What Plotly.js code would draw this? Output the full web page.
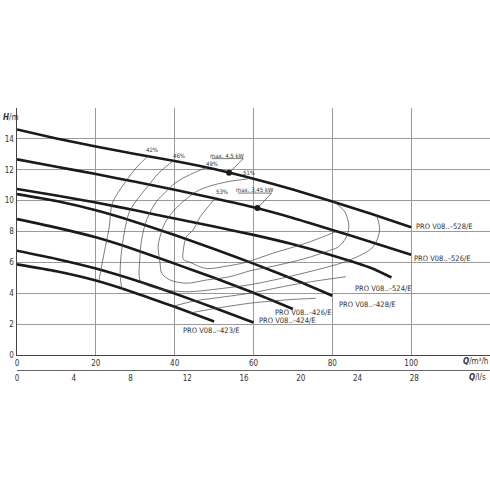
<!DOCTYPE html>
<html>
<head>
<meta charset="utf-8">
<script src="https://cdn.plot.ly/plotly-3.0.1.min.js"></script>
<style>html,body{margin:0;padding:0;background:#fff;}#chart{width:490px;height:490px;}</style>
</head>
<body>
<div id="chart"></div>
<script>
// ---- pump curves (Q in m3/h, H in m) ----
const q528 = [0,10,20,30,40,50,60,70,80,90,100];
const h528 = [14.61,14.03,13.5,13.02,12.57,12.05,11.42,10.72,9.95,9.13,8.27];
const q526 = [0,10,20,30,40,50,60,70,80,90,100];
const h526 = [12.67,12.2,11.72,11.22,10.7,10.15,9.57,8.88,8.1,7.3,6.5];
const q524 = [0,10,20,30,40,50,60,70,80,90,95];
const h524 = [10.75,10.33,9.88,9.37,8.84,8.32,7.78,7.17,6.45,5.62,5.02];
const q428 = [0,10,20,30,40,50,60,70,80];
const h428 = [10.42,9.97,9.37,8.62,7.77,6.87,5.92,4.92,3.84];
const q426 = [0,10,20,30,40,50,60,70];
const h426 = [8.8,8.25,7.62,6.82,5.92,5.0,4.03,2.98];
const q424 = [0,10,20,30,40,50,60];
const h424 = [6.75,6.22,5.6,4.84,3.98,3.06,2.1];
const q423 = [0,10,20,30,40,50];
const h423 = [5.87,5.42,4.82,4.02,3.12,2.17];
const pumpNames = ['PRO V08..–528/E','PRO V08..–526/E','PRO V08..–524/E','PRO V08..–428/E','PRO V08..–426/E','PRO V08..–424/E','PRO V08..–423/E'];

// ---- efficiency iso-lines ----
const e42Lq = [33.5,30.5,27.2,24.2,23.4,22.1,20.8];
const e42Lh = [12.95,12.2,11.1,9.84,8.3,6.6,4.85];
const e42Rq = [43.9,50,59,65,70,75.8];
const e42Rh = [2.72,3.0,3.35,3.5,3.6,3.67];
const e46Lq = [39.8,36,33.1,30,28.4,27.2,26.3,26.2,26.6];
const e46Lh = [12.6,11.8,10.9,9.9,9.2,7.9,6.16,5.07,4.28];
const e46Rq = [39.6,45,50,59,65,70,76,83.4];
const e46Rh = [3.15,3.5,3.68,4.0,4.3,4.55,4.8,5.07];
const e49q = [48.1,44,40.1,37.5,35.4,32.9,31.6,31.2,31.2,32.5,35.4,39.6,43.9,52.3,59.1,65,75,84.4,90.3,92,91.2];
const e49h = [12.15,11.7,11.14,10.5,9.95,8.76,7.46,6.37,4.86,4.58,4.32,4.15,4.1,4.32,4.55,4.85,5.45,6.15,7.0,8.1,9.05];
const e51q = [58.5,54,49,45.6,42.2,39.6,37.5,36.3,35.8,36.3,36.7,38.8,43,48.1,54,59.1,65,73.4,78.5,81.5,83.4,84.2,83.1,80.2];
const e51h = [11.4,11.25,10.95,10.6,9.95,9.3,8.54,7.67,7.0,5.95,5.3,4.86,4.65,4.86,5.07,5.45,5.75,6.27,6.7,7.0,7.57,8.32,9.3,9.95];
const e53q = [50.2,48.5,46.5,44.7,43,42.2,42.2,43.9,48,53,58,65,73.4,81];
const e53h = [10.15,9.6,8.97,8.1,7.67,6.81,6.2,6.0,5.6,5.75,6.0,6.6,7.25,8.0];
const effLabels = ['42%','46%','49%','51%','53%'];

// ---- max power points ----
const maxQ = [53.8,61.0];
const maxH = [11.8,9.52];
const maxLabels = ['max. 4,5 kW','max. 3,45 kW'];
const lead45q = [49.4,57.4,53.8];
const lead45h = [12.72,12.72,11.8];
const lead345q = [56.0,64.6,61.0];
const lead345h = [10.49,10.49,9.52];

// ---- axes ----
const qTicks = [0,20,40,60,80,100];
const hTicks = [0,2,4,6,8,10,12,14,16];
const hTickText = ['0','2','4','6','8','10','12','14',''];
const lsTicks = [0,4,8,12,16,20,24,28];

const FONT = 'DejaVu Sans Condensed, Liberation Sans Narrow, DejaVu Sans, sans-serif';
const TXT = '#333';

const pumps = [[q528,h528],[q526,h526],[q524,h524],[q428,h428],[q426,h426],[q424,h424],[q423,h423]];
const traces = [];
pumps.forEach(function(p, i){
  traces.push({x:p[0], y:p[1], type:'scatter', mode:'lines', name:pumpNames[i],
    line:{color:'#1a1a1a', width:2.6, shape:'spline', smoothing:0.6}, hoverinfo:'skip', showlegend:false});
});
const effs = [[e42Lq,e42Lh],[e42Rq,e42Rh],[e46Lq,e46Lh],[e46Rq,e46Rh],[e49q,e49h],[e51q,e51h],[e53q,e53h]];
effs.forEach(function(e){
  traces.push({x:e[0], y:e[1], type:'scatter', mode:'lines',
    line:{color:'#444', width:0.7, shape:'spline', smoothing:0.9}, hoverinfo:'skip', showlegend:false});
});
traces.push({x:lead45q, y:lead45h, type:'scatter', mode:'lines', line:{color:'#444', width:0.7}, hoverinfo:'skip', showlegend:false});
traces.push({x:lead345q, y:lead345h, type:'scatter', mode:'lines', line:{color:'#444', width:0.7}, hoverinfo:'skip', showlegend:false});
traces.push({x:maxQ, y:maxH, type:'scatter', mode:'markers', marker:{color:'#1a1a1a', size:6}, hoverinfo:'skip', showlegend:false});
// invisible trace for second (l/s) axis
traces.push({x:[0,28], y:[0,0], xaxis:'x2', yaxis:'y', type:'scatter', mode:'markers', marker:{opacity:0}, hoverinfo:'skip', showlegend:false});

const ann = [];
function txt(x, y, t, xanchor, size){
  ann.push({x:x, y:y, xref:'x', yref:'y', text:t, showarrow:false, xanchor:xanchor||'center', yanchor:'middle',
    font:{family:FONT, size:size||7, color:TXT}});
}
// pump labels
txt(100.8, 8.3, pumpNames[0], 'left', 7.5);
txt(100.2, 6.27, pumpNames[1], 'left', 7.5);
txt(85.2, 4.28, pumpNames[2], 'left', 7.5);
txt(81.3, 3.28, pumpNames[3], 'left', 7.5);
txt(65.0, 2.74, pumpNames[4], 'left', 7.5);
txt(60.9, 2.22, pumpNames[5], 'left', 7.5);
txt(41.6, 1.57, pumpNames[6], 'left', 7.5);
// efficiency labels
txt(34.3, 13.31, effLabels[0], 'center', 6);
txt(41.1, 12.94, effLabels[1], 'center', 6);
txt(49.4, 12.38, effLabels[2], 'center', 6);
txt(58.9, 11.83, effLabels[3], 'center', 6);
txt(51.9, 10.56, effLabels[4], 'center', 6);
// max power labels
txt(53.4, 12.95, maxLabels[0], 'center', 6);
txt(60.3, 10.72, maxLabels[1], 'center', 6);
// axis titles
ann.push({xref:'paper', yref:'paper', x:-0.034, y:0.962, xanchor:'left', yanchor:'middle', showarrow:false,
  text:'<b><i>H</i></b>/m', font:{family:FONT, size:8, color:TXT}});
ann.push({xref:'paper', yref:'paper', x:1, y:0.034, xanchor:'right', yanchor:'middle', showarrow:false,
  text:'<b><i>Q</i></b>/m³/h', font:{family:FONT, size:8, color:TXT}});
ann.push({xref:'paper', yref:'paper', x:0.996, y:-0.027, xanchor:'right', yanchor:'middle', showarrow:false,
  text:'<b><i>Q</i></b>/l/s', font:{family:FONT, size:8, color:TXT}});

const layout = {
  width:490, height:490,
  margin:{l:17, r:0, t:108, b:120, pad:0},
  paper_bgcolor:'#fff', plot_bgcolor:'#fff',
  font:{family:FONT, size:8, color:TXT},
  showlegend:false,
  xaxis:{range:[0,120], tickvals:qTicks, ticktext:qTicks.map(String), showgrid:true, gridcolor:'#9a9a9a', gridwidth:1,
    showline:true, linecolor:'#444', linewidth:1.5, ticks:'', zeroline:false, anchor:'y',
    tickfont:{family:FONT, size:8, color:TXT}},
  xaxis2:{range:[0,120/3.6], tickvals:lsTicks, ticktext:lsTicks.map(String), overlaying:'x', anchor:'free', position:0,
    side:'bottom', showgrid:false, showline:true, linecolor:'#666', linewidth:1, ticks:'', zeroline:false,
    tickfont:{family:FONT, size:8, color:TXT}},
  yaxis:{domain:[0.0573,1], range:[0,16], tickvals:hTicks, ticktext:hTickText, showgrid:true, gridcolor:'#9a9a9a', gridwidth:1,
    showline:true, linecolor:'#444', linewidth:1.5, ticks:'', zeroline:false,
    tickfont:{family:FONT, size:8, color:TXT}},
  annotations:ann
};
Plotly.newPlot('chart', traces, layout, {staticPlot:true, displayModeBar:false});
</script>
</body>
</html>
